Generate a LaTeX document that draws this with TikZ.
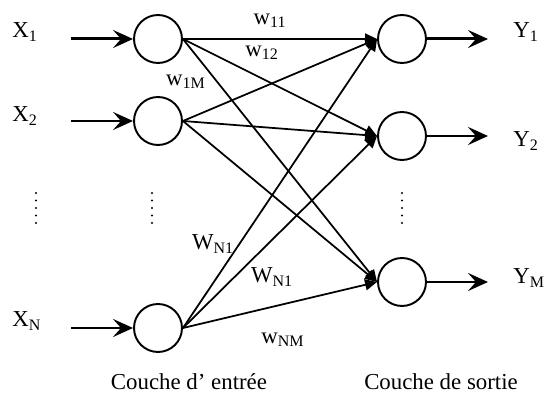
\documentclass[tikz,border=0pt]{standalone}
\usepackage{fontspec}
\setmainfont{Liberation Serif}
\usetikzlibrary{arrows.meta,positioning}

\begin{document}
\begin{tikzpicture}[
    x=0.02cm, y=-0.02cm,
    neuron/.style={draw, circle, line width=1.1pt, minimum size=0.96cm, inner sep=0pt},
    lbl/.style={font=\fontsize{13}{15}\selectfont, inner sep=0pt},
    io/.style={-{Stealth[length=4mm, width=3.6mm, inset=1.6mm]}, line width=1.7pt},
    conn/.style={-{Triangle[length=2.4mm, width=2.2mm]}, line width=1pt}
]
    \useasboundingbox (0,0) rectangle (545,401);

    % couche d'entree
    \node[neuron] (in1) at (158,39) {};
    \node[neuron] (in2) at (158,121) {};
    \node[neuron] (inN) at (158,328) {};
    % couche de sortie
    \node[neuron] (out1) at (402,39) {};
    \node[neuron] (out2) at (402,136) {};
    \node[neuron] (outM) at (402,282) {};

    % entrees
    \coordinate (a1) at (71,39);
    \coordinate (a2) at (71,121);
    \coordinate (aN) at (71,328);
    \node[lbl, anchor=west] (x1) at (12,32) {X\textsubscript{1}};
    \node[lbl, anchor=west] (x2) at (12,116) {X\textsubscript{2}};
    \node[lbl, anchor=west] (xN) at (12,321) {X\textsubscript{N}};
    \draw[io] (a1) -- (in1);
    \draw[io] (a2) -- (in2);
    \draw[io] (aN) -- (inN);

    % sorties
    \coordinate (b1) at (488,39);
    \coordinate (b2) at (488,136);
    \coordinate (bM) at (488,282);
    \node[lbl, anchor=west] (y1) at (513,32) {Y\textsubscript{1}};
    \node[lbl, anchor=west] (y2) at (513,141) {Y\textsubscript{2}};
    \node[lbl, anchor=west] (yM) at (513,278) {Y\textsubscript{M}};
    \draw[io] (out1) -- (b1);
    \draw[io] (out2) -- (b2);
    \draw[io] (outM) -- (bM);

    % poids
    \draw[conn] (in1.east) -- (out1.west);
    \draw[conn] (in1.east) -- (out2.west);
    \draw[conn] (in1.east) -- (outM.west);
    \draw[conn] (in2.east) -- (out1.west);
    \draw[conn] (in2.east) -- (out2.west);
    \draw[conn] (in2.east) -- (outM.west);
    \draw[conn] (inN.east) -- (out1.west);
    \draw[conn] (inN.east) -- (out2.west);
    \draw[conn] (inN.east) -- (outM.west);

    \node[lbl] (w11) at (270,21) {w\textsubscript{11}};
    \node[lbl] (w12) at (262,53) {w\textsubscript{12}};
    \node[lbl] (w1M) at (186,82) {w\textsubscript{1M}};
    \node[lbl] (wN1a) at (213,244) {W\textsubscript{N1}};
    \node[lbl] (wN1b) at (272,277) {W\textsubscript{N1}};
    \node[lbl] (wNM) at (283,340) {w\textsubscript{NM}};

    % points de suspension
    \foreach \px in {36,152,402}
        \foreach \py in {0,1,2,3,4}
            \fill (\px,193+7.5*\py) circle (1.2);

    \node[lbl] (entree) at (189,382) {Couche d’ entrée};
    \node[lbl] (sortie) at (441,382) {Couche de sortie};
\end{tikzpicture}
\end{document}
